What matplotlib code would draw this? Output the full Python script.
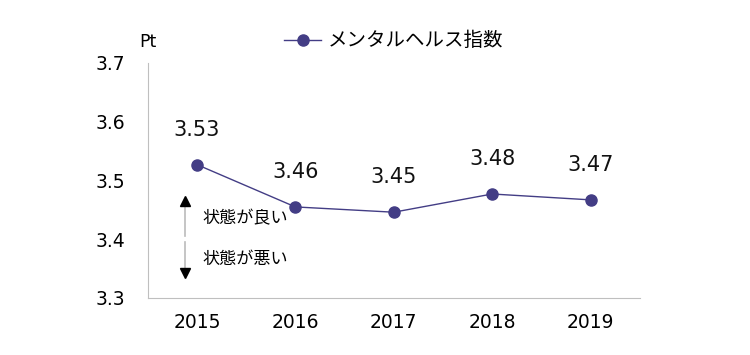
import matplotlib.pyplot as plt

plt.rcParams['font.family'] = ['DejaVu Sans', 'Noto Sans CJK JP']

years = ['2015', '2016', '2017', '2018', '2019']
index_values = [3.527, 3.455, 3.446, 3.477, 3.467]
value_labels = ['3.53', '3.46', '3.45', '3.48', '3.47']
y_ticks = [3.3, 3.4, 3.5, 3.6, 3.7]

line_color = '#433D85'

fig = plt.figure(figsize=(7.5, 3.55), dpi=100)
ax = fig.add_axes([0.197, 0.1606, 0.656, 0.662])

x = list(range(len(years)))
ax.plot(x, index_values, color=line_color, lw=1, marker='o', ms=8,
        label='メンタルヘルス指数')

for xi, v, lab in zip(x, index_values, value_labels):
    ax.annotate(lab, (xi, v), xytext=(0, 25), textcoords='offset points',
                ha='center', va='center', fontsize=15, color='#111111')

ax.set_xlim(-0.5, 4.5)
ax.set_ylim(3.3, 3.7)
ax.set_xticks(x)
ax.set_xticklabels(years, fontsize=13.5)
ax.set_yticks(y_ticks)
ax.set_yticklabels([f'{t:.1f}' for t in y_ticks], fontsize=13.5)
ax.tick_params(length=0, pad=11)
ax.tick_params(axis='y', pad=16)
for s in ['top', 'right']:
    ax.spines[s].set_visible(False)
for s in ['left', 'bottom']:
    ax.spines[s].set_color('#BFBFBF')

ax.text(0, 1.09, 'Pt', transform=ax.transAxes, ha='center', va='center',
        fontsize=12.5)

# direction arrows
ax.plot([-0.12, -0.12], [3.465, 3.405], color='#BBBBBB', lw=1.2)
ax.plot([-0.12], [3.465], marker='^', color='black', ms=7, ls='none')
ax.plot([-0.12, -0.12], [3.395, 3.342], color='#BBBBBB', lw=1.2)
ax.plot([-0.12], [3.342], marker='v', color='black', ms=7, ls='none')
ax.text(0.06, 3.436, '状態が良い', fontsize=12.3, va='center', ha='left')
ax.text(0.06, 3.366, '状態が悪い', fontsize=12.3, va='center', ha='left')

fig.legend(loc='center', bbox_to_anchor=(0.525, 0.885), frameon=False,
           fontsize=14, handlelength=1.9, handletextpad=0.35)

fig.savefig('out.png', dpi=100)
